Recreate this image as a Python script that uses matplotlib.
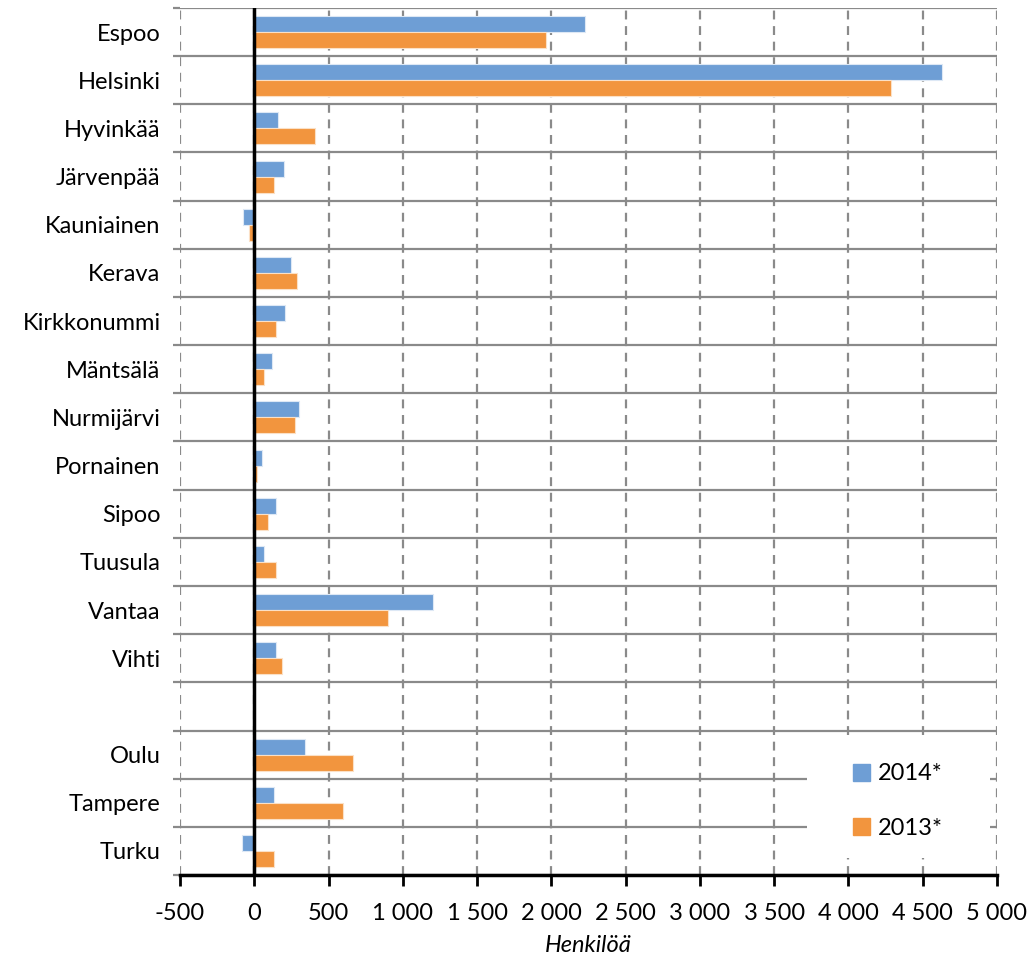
import numpy as np
import matplotlib
matplotlib.use("Agg")
import matplotlib.pyplot as plt
from matplotlib.patches import Patch, Rectangle

categories = ["Espoo", "Helsinki", "Hyvinkää", "Järvenpää", "Kauniainen", "Kerava",
              "Kirkkonummi", "Mäntsälä", "Nurmijärvi", "Pornainen", "Sipoo", "Tuusula",
              "Vantaa", "Vihti", "", "Oulu", "Tampere", "Turku"]
values_2014 = [2228, 4630, 157, 200, -79, 244, 205, 119, 301, 52, 148, 65,
               1205, 148, np.nan, 343, 135, -84]
values_2013 = [1965, 4287, 408, 130, -35, 287, 148, 65, 274, 20, 92, 148,
               900, 188, np.nan, 664, 595, 135]
series_labels = ["2014*", "2013*"]
x_ticks = [-500, 0, 500, 1000, 1500, 2000, 2500, 3000, 3500, 4000, 4500, 5000]
x_tick_labels = ["-500", "0", "500", "1 000", "1 500", "2 000", "2 500", "3 000",
                 "3 500", "4 000", "4 500", "5 000"]
x_label = "Henkilöä"

blue = "#6E9ED5"
orange = "#F2953E"
grid_gray = "#8A8A8A"
FONT = "Lato"
FS = 17

plt.rcParams["font.family"] = [FONT, "DejaVu Sans"]

fig = plt.figure(figsize=(10.32, 9.63), dpi=100)
ax = fig.add_axes([180/1032, 1 - 875/963, (997-180)/1032, (875-8)/963])

n = len(categories)
y = np.arange(n)
h = 1/3
ax.barh(y - h/2, values_2014, height=h, color=blue, edgecolor="#DDE8F5",
        linewidth=0.8, zorder=3, label=series_labels[0])
ax.barh(y + h/2, values_2013, height=h, color=orange, edgecolor="#FBE0C6",
        linewidth=0.8, zorder=3, label=series_labels[1])

ax.set_xlim(x_ticks[0], x_ticks[-1])
ax.set_ylim(n - 0.5, -0.5)

# x axis
ax.set_xticks(x_ticks)
ax.set_xticklabels(x_tick_labels, fontsize=FS)
ax.tick_params(axis="x", direction="out", length=8, width=2, color="black", pad=12)
ax.xaxis.grid(True, color=grid_gray, linestyle=(0, (4, 3)), linewidth=1.6, zorder=0)
ax.set_xlabel(x_label, fontsize=FS, style="italic", labelpad=8)

# y axis: boundaries as major ticks (gridlines), labels at centers as minor
ax.set_yticks(np.arange(-0.5, n, 1.0))
ax.set_yticklabels([])
ax.set_yticks(y, minor=True)
ax.set_yticklabels(categories, minor=True, fontsize=FS)
ax.tick_params(axis="y", which="major", direction="out", length=5, width=1.6, color=grid_gray)
ax.tick_params(axis="y", which="minor", length=0, pad=14)
ax.yaxis.grid(True, which="major", color=grid_gray, linestyle="-", linewidth=1.6, zorder=0)
ax.set_axisbelow(True)

for s in ["top", "right", "left"]:
    ax.spines[s].set_visible(False)
ax.spines["bottom"].set_linewidth(2.5)
ax.spines["bottom"].set_color("black")
ax.spines["bottom"].set_zorder(5)

ax.axvline(0, color="black", linewidth=2.5, zorder=5)

# white legend background box
bg = Rectangle((807/1032, 1 - 858/963), (990-807)/1032, (858-740)/963,
               transform=fig.transFigure, facecolor="white", edgecolor="none", zorder=1.5)
ax.add_artist(bg)

handles = [Patch(facecolor=blue, edgecolor=blue), Patch(facecolor=orange, edgecolor=orange)]
leg = ax.legend(handles, series_labels, loc="center", bbox_to_anchor=(898/1032, 1 - 801/963),
                bbox_transform=fig.transFigure, frameon=False, fontsize=FS,
                handlelength=0.72, handleheight=0.72, handletextpad=0.3,
                labelspacing=1.4, borderpad=0.2, borderaxespad=0)
leg.set_zorder(6)

fig.savefig("out.png", dpi=100, facecolor="white")
